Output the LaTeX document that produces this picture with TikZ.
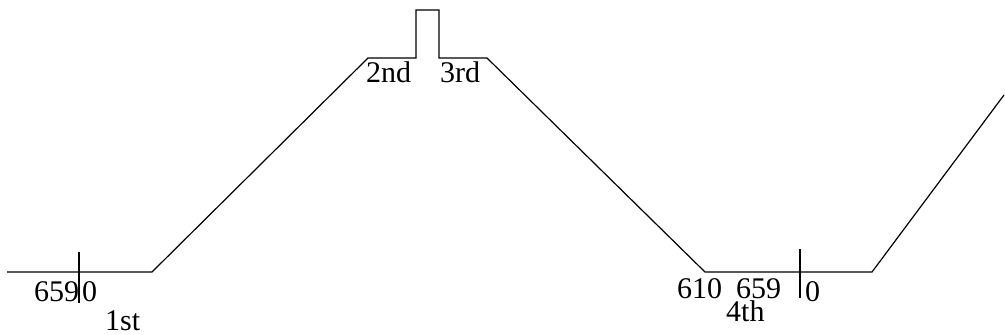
\documentclass[tikz,border=0pt]{standalone}
\usepackage{fontspec}
\setmainfont{Liberation Serif}
\begin{document}
\begin{tikzpicture}[x=1pt,y=-1pt,
  track/.style={line width=1.2pt,line join=miter},
  lbl/.style={inner sep=0pt,anchor=base west,font=\fontsize{30}{30}\selectfont}]
\useasboundingbox (0,0) rectangle (1005,335);
\draw[track] (7,272) -- (152,272) -- (368,58) -- (416,58) -- (416,10) -- (439,10) -- (439,58) -- (487,58) -- (705,272) -- (872,272) -- (1004,95);
\draw[track] (79,252) -- (79,303);
\draw[track] (800,249) -- (800,298);
\node[lbl] (a) at (34,301) {659};
\node[lbl] (b) at (82,301) {0};
\node[lbl] (c) at (105,330) {1st};
\node[lbl] (d) at (366,82) {2nd};
\node[lbl] (e) at (440,82) {3rd};
\node[lbl] (f) at (677,298) {610};
\node[lbl] (g) at (736,298) {659};
\node[lbl] (h) at (805,301) {0};
\node[lbl] (i) at (726,321) {4th};
\end{tikzpicture}
\end{document}
